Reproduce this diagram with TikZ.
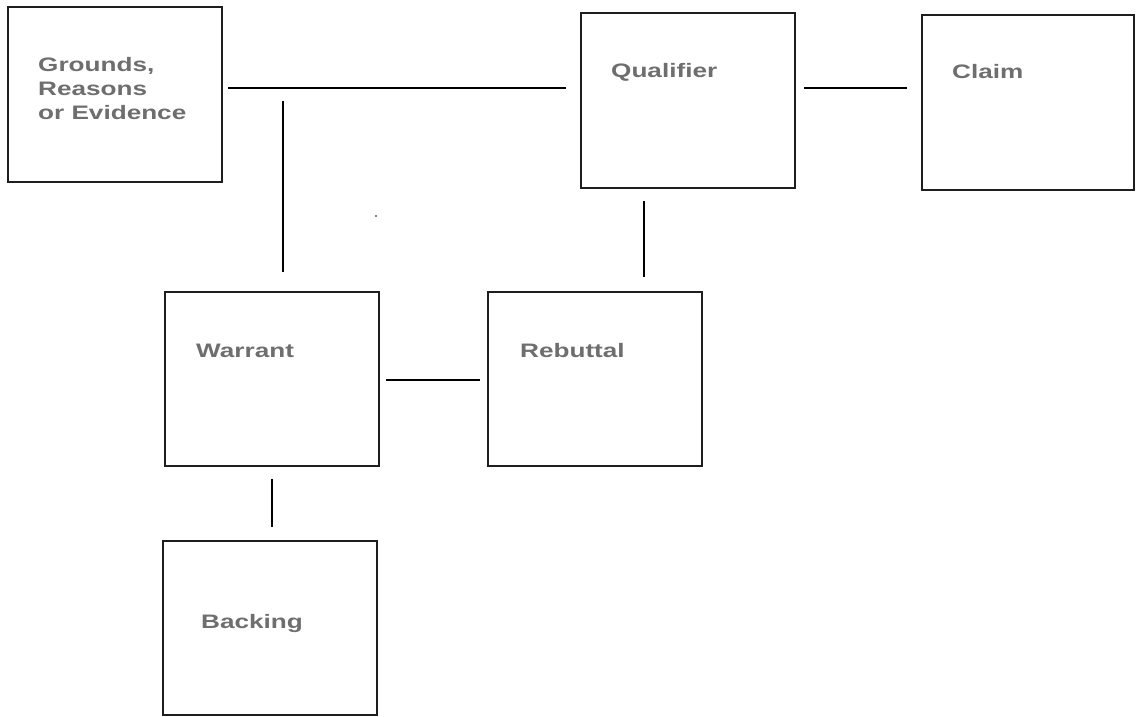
\documentclass[tikz,border=0pt]{standalone}
\usepackage{fontspec}
\usetikzlibrary{fit}
\newfontfamily\lblfont[FakeStretch=1.34]{Liberation Sans Bold}
\definecolor{lblgray}{HTML}{6E6E6E}
\definecolor{edgegray}{HTML}{1E1E1E}
\begin{document}
\begin{tikzpicture}[x=1pt,y=-1pt,
  box/.style={draw=edgegray,line width=1.8pt,rectangle,inner sep=0pt},
  lbl/.style={anchor=base west,inner sep=0pt,text=lblgray,
    font=\lblfont\fontsize{19.5}{24}\selectfont,align=left},
  link/.style={draw=black,line width=1.6pt}]
\useasboundingbox (0,0) rectangle (1136,716);
\fill[white] (0,0) rectangle (1136,716);

% boxes: corner to corner
\node[box,fit={(8,7)(222,182)}] (grounds) {};
\node[box,fit={(581,13)(795,188)}] (qualifier) {};
\node[box,fit={(922,15)(1134,190)}] (claim) {};
\node[box,fit={(165,292)(379,466)}] (warrant) {};
\node[box,fit={(488,292)(702,466)}] (rebuttal) {};
\node[box,fit={(163,541)(377,715)}] (backing) {};

% labels (a multi-line label sits on the baseline of its last line)
\node[lbl] (tgrounds) at (38,119) {Grounds,\\Reasons\\or Evidence};
\node[lbl] (tqualifier) at (611,77) {Qualifier};
\node[lbl] (tclaim) at (952,78) {Claim};
\node[lbl] (twarrant) at (196,357) {Warrant};
\node[lbl] (trebuttal) at (520,357) {Rebuttal};
\node[lbl] (tbacking) at (201,628) {Backing};

% connector end points
\coordinate (gq1) at (228,88);
\coordinate (gq2) at (566,88);
\coordinate (gw1) at (283,101);
\coordinate (gw2) at (283,272);
\coordinate (qc1) at (804,88);
\coordinate (qc2) at (907,88);
\coordinate (qr1) at (644,201);
\coordinate (qr2) at (644,277);
\coordinate (wr1) at (386,380);
\coordinate (wr2) at (480,380);
\coordinate (wb1) at (272,479);
\coordinate (wb2) at (272,527);
\coordinate (speck) at (376,216);

\draw[link] (gq1) -- (gq2);
\draw[link] (gw1) -- (gw2);
\draw[link] (qc1) -- (qc2);
\draw[link] (qr1) -- (qr2);
\draw[link] (wr1) -- (wr2);
\draw[link] (wb1) -- (wb2);
\fill[black] (speck) circle (0.9);
\end{tikzpicture}
\end{document}
